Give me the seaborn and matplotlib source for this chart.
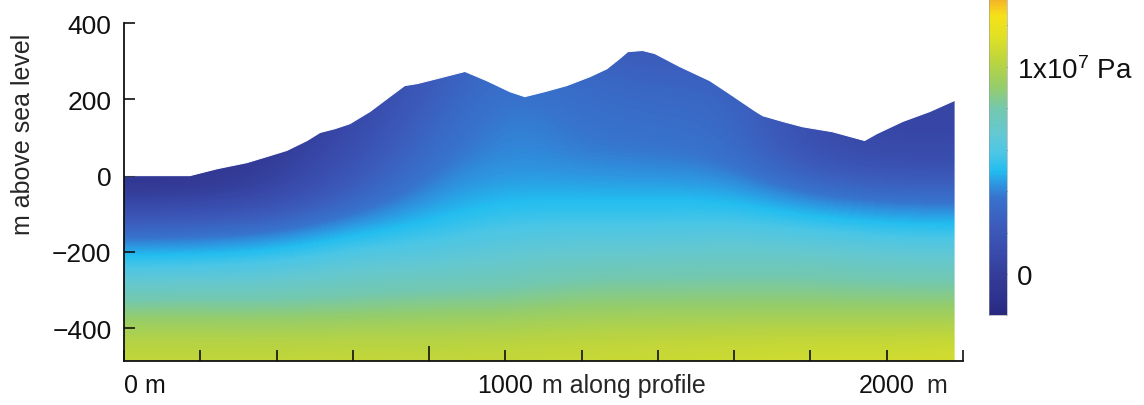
import numpy as np
import matplotlib
matplotlib.use("Agg")
import matplotlib.pyplot as plt
from matplotlib.colors import LinearSegmentedColormap, Normalize
from matplotlib.patches import Polygon
import seaborn as sns

# ---------------- data ----------------
# topographic profile: distance along profile (m) and elevation (m a.s.l.)
profile_x = [0, 173, 244, 322, 375, 427, 480, 514, 553, 592, 645, 697, 736, 768,
             820, 894, 951, 1012, 1051, 1103, 1161, 1221, 1266, 1300, 1321, 1360,
             1392, 1457, 1536, 1580, 1654, 1675, 1727, 1780, 1858, 1942, 1974,
             2042, 2113, 2178]
profile_z = [0, 0, 18, 34, 50, 66, 92, 113, 123, 136, 168, 207, 236, 241,
             254, 273, 249, 220, 207, 220, 236, 259, 280, 307, 325, 328,
             320, 286, 249, 220, 170, 157, 142, 128, 115, 92, 110,
             142, 168, 197]

# pressure read on a coarse grid (MPa); columns = grid_x, rows = grid_z
grid_x = [0, 200, 400, 600, 800, 1000, 1200, 1400, 1600, 1800, 2000, 2200]
grid_z = [350, 250, 150, 50, -50, -150, -250, -350, -450]
p_z350 = [-1.5, -1.3, -0.8, 0.3, 2.0, 3.4, 2.5, 1.8, 2.5, 1.0, 0.5, 0.5]
p_z250 = [-1.5, -1.3, -0.8, 0.3, 2.3, 3.6, 3.2, 2.8, 2.8, 1.0, 0.5, 0.6]
p_z150 = [-1.3, -1.1, -0.6, 0.6, 2.9, 4.2, 3.6, 3.4, 3.3, 1.0, 0.6, 0.7]
p_z50 = [-1.1, -0.9, -0.1, 1.4, 3.6, 4.2, 3.9, 3.8, 3.6, 1.5, 0.8, 0.9]
p_zm50 = [-0.3, -0.2, 0.5, 2.7, 4.3, 4.8, 4.8, 4.8, 4.8, 3.8, 3.3, 3.3]
p_zm150 = [3.5, 3.6, 4.0, 5.0, 5.4, 6.0, 6.0, 6.0, 6.2, 6.0, 5.6, 5.5]
p_zm250 = [6.0, 6.1, 6.3, 6.9, 7.0, 7.2, 7.7, 7.7, 7.8, 7.8, 7.5, 7.5]
p_zm350 = [8.6, 8.6, 8.5, 8.6, 8.8, 8.8, 9.1, 9.1, 9.1, 9.1, 9.1, 9.1]
p_zm450 = [10.5, 10.5, 10.5, 10.6, 10.5, 10.6, 10.7, 10.8, 10.9, 11.0, 11.0, 11.1]

# colour scale (value in MPa -> colour)
cmap_values = [-1.95, -1.17, 0.0, 0.78, 2.39, 3.71, 4.34, 5.02, 5.80, 6.78,
               7.95, 9.07, 10.2, 11.5, 12.49, 13.0, 13.46]
cmap_colors = ["#28297f", "#2e328e", "#343d99", "#3848a8", "#3c5cbc", "#3773cd",
               "#2d96e1", "#23bef0", "#4bc6e6", "#64c8d2", "#73c8af", "#96cd69",
               "#b9d441", "#e1e123", "#f5e119", "#f5c323", "#f0a52d"]
vmin, vmax = -1.95, 13.46

y_ticks = [-400, -200, 0, 200, 400]
x_ticks = list(range(0, 2201, 200))
x_labels = {0: "0 m", 1000: "1000", 2000: "2000"}
cbar_ticks = [0, 2, 4, 6, 8, 10, 12]
cbar_labels = {0: "0", 10: r"1x10$^{7}$ Pa"}

# ---------------- style ----------------
sns.set_style("ticks")
plt.rcParams["font.family"] = ["Liberation Sans", "DejaVu Sans"]
plt.rcParams["mathtext.fontset"] = "custom"
plt.rcParams["mathtext.rm"] = "Liberation Sans"
plt.rcParams["mathtext.it"] = "Liberation Sans"

fig = plt.figure(figsize=(11.44, 4.06), dpi=100)
W, H = 1144, 406
ax = fig.add_axes([124 / W, (H - 362) / H, (963 - 124) / W, (362 - 24) / H])

pos = [(v - vmin) / (vmax - vmin) for v in cmap_values]
cmap = LinearSegmentedColormap.from_list("press", list(zip(pos, cmap_colors)))
norm = Normalize(vmin, vmax)

P = np.array([p_z350, p_z250, p_z150, p_z50, p_zm50, p_zm150, p_zm250, p_zm350, p_zm450])
dx = grid_x[1] - grid_x[0]
dz = grid_z[0] - grid_z[1]
extent = [grid_x[0] - dx / 2, grid_x[-1] + dx / 2, grid_z[-1] - dz / 2, grid_z[0] + dz / 2]
im = ax.imshow(P, cmap=cmap, norm=norm, extent=extent, origin="upper",
               interpolation="bicubic", interpolation_stage="data", aspect="auto")

verts = list(zip(profile_x, profile_z)) + [(profile_x[-1], -600), (profile_x[0], -600)]
clip = Polygon(verts, closed=True, transform=ax.transData, facecolor="none", edgecolor="none")
ax.add_patch(clip)
im.set_clip_path(clip)

sns.lineplot(x=profile_x, y=profile_z, ax=ax, color="white", linewidth=0.8,
             sort=False, estimator=None)

ax.set_xlim(0, 2200)
ax.set_ylim(-486, 400)
for s in ["top", "right"]:
    ax.spines[s].set_visible(False)
for s in ["left", "bottom"]:
    ax.spines[s].set_linewidth(1.3)
    ax.spines[s].set_color("#111111")

ax.set_yticks(y_ticks)
ax.set_yticklabels([f"{v:d}".replace("-", "\u2212") for v in y_ticks], fontsize=19)
ax.set_xticks(x_ticks)
ax.set_xticklabels([x_labels.get(v, "") for v in x_ticks], fontsize=18)
ax.get_xticklabels()[0].set_ha("left")
ax.tick_params(axis="both", direction="in", length=8, width=1.2, colors="#111111")
ax.tick_params(axis="y", pad=9)
ax.tick_params(axis="x", pad=9)
ax.xaxis.get_major_ticks()[4].tick1line.set_markersize(11)

ax.text(1095, -0.036, "m along profile", transform=ax.get_xaxis_transform(),
        fontsize=18, ha="left", va="top")
ax.text(2105, -0.036, "m", transform=ax.get_xaxis_transform(),
        fontsize=18, ha="left", va="top")

ax.set_ylabel("m above sea level", fontsize=18)
ax.yaxis.set_label_coords(-0.106, 0.672)

# colour bar
cax = fig.add_axes([989 / W, (H - 316) / H, 18 / W, 316 / H + 0.01])
cb = fig.colorbar(im, cax=cax, orientation="vertical")
cb.set_ticks(cbar_ticks)
cb.set_ticklabels([cbar_labels.get(v, "") for v in cbar_ticks])
cb.outline.set_linewidth(0.4)
cb.outline.set_edgecolor("#999999")
cax.tick_params(axis="y", direction="in", length=3, width=0.8, colors="#555555",
                left=True, right=True, labelsize=20, labelcolor="#111111", pad=7)

fig.savefig("out.png", dpi=100)
